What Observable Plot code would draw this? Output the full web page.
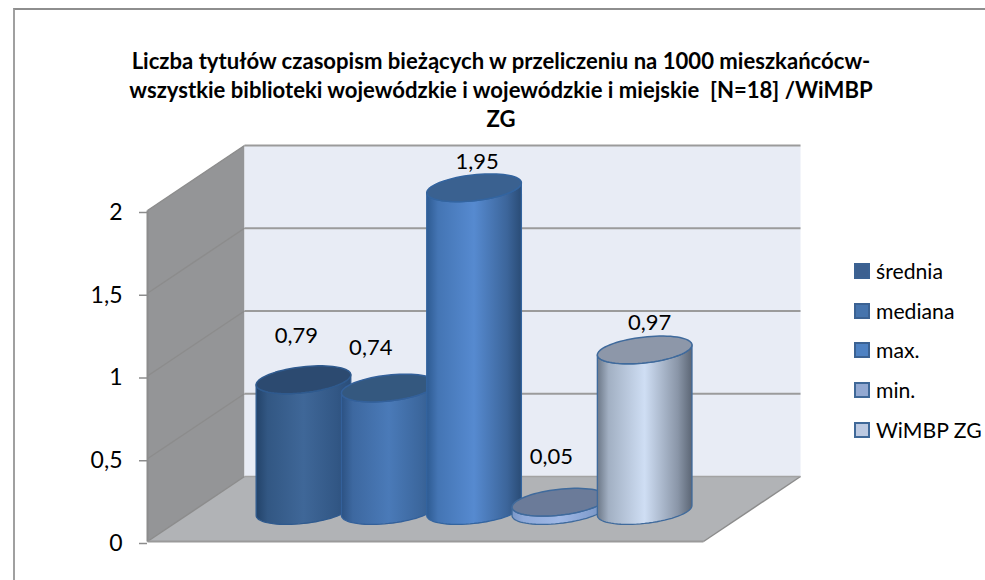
<!DOCTYPE html>
<html><head><meta charset="utf-8">
<script src="https://cdn.jsdelivr.net/npm/d3@7"></script>
<script src="https://cdn.jsdelivr.net/npm/@observablehq/plot@0.6"></script>
<style>
html,body{margin:0;padding:0;background:#fff;}
body{width:985px;height:580px;overflow:hidden;position:relative;font-family:Lato,"Open Sans",sans-serif;color:#000;}
#frame{position:absolute;left:13px;top:8px;width:1000px;height:640px;border:2px solid #8e8e8e;border-left-color:#a0a0a0;box-sizing:border-box;pointer-events:none;}
#title{height:135px;box-sizing:border-box;padding-top:46px;width:1002px;text-align:center;font-weight:700;font-size:22.1px;line-height:29px;white-space:nowrap;}
#legend{position:absolute;left:854px;top:251px;white-space:nowrap;}
.row{height:39.7px;display:flex;align-items:center;font-size:21.2px;}
.sw{width:12px;height:12px;border:2px solid;margin-right:6px;flex:none;}
</style></head><body>
<div id="frame"></div>
<div id="title">Liczba tytułów czasopism bieżących w przeliczeniu na 1000 mieszkańcócw-<br>wszystkie biblioteki wojewódzkie i wojewódzkie i miejskie&nbsp; [N=18] /WiMBP<br>ZG</div>
<div id="chart"></div>
<div id="legend"></div>
<script>
const categories = ["średnia","mediana","max.","min.","WiMBP ZG"];
const values = [0.79,0.74,1.95,0.05,0.97];
const yTicks = [0,0.5,1,1.5,2];

// styling, separate from data: [left, centre, right, top, outline]
const shades = [
 ["#234369","#3f6798","#2a4d79","#2c4a70","#2f5a8e"],
 ["#2c5283","#4a7ab8","#31598a","#34587f","#33609a"],
 ["#2e5b92","#568ad0","#2a4c76","#3a6190","#33649f"],
 ["#7a97c8","#9fb8e6","#6f8cbc","#6b7b99","#3f6a9c"],
 ["#6c7888","#cfdef4","#5c6675","#8d97a9","#3f6a9c"]];
const swatches = ["#3c6090","#4674ad","#4f82c3","#93a9d2","#bcc9e1"];
const labelNudge = [[-7,-44],[-18,-40],[3,-26],[-8,-45],[5,-27]];

// projection of the 3-D box, in scale units
const unitX = 85.3, unitY = 165.5;          // px per category, px per value
const floorW = 556/unitX, firstX = 1.286;
const depthX = 97/unitX, depthY = 65/unitY, barDepth = 0.477;
const a = 47.6, b = 12.9, th = 6.5*Math.PI/180;
const t0 = Math.atan(-(b/a)*Math.tan(th));
const cx = i => firstX + i + barDepth*depthX;
const cy = v => v + barDepth*depthY;
const ell = (i,v,t) => ({
  x: cx(i) + (a*Math.cos(t)*Math.cos(th) - b*Math.sin(t)*Math.sin(th))/unitX,
  y: cy(v) + (a*Math.cos(t)*Math.sin(th) + b*Math.sin(t)*Math.cos(th))/unitY});
const topEllipse = (i,v) => d3.range(0,73).map(k => ell(i,v,k/72*2*Math.PI));
const body = (i,v) => {
  const lower = d3.range(0,37).map(k => t0 - k/36*Math.PI);
  const bottom = lower.map(t => ell(i,0,t));
  const top = lower.slice().reverse().map(t => ell(i,v,t));
  return [...bottom,...top,bottom[0]];
};

const poly = (pts,opt) => Plot.line(pts,{x:"x",y:"y",curve:"linear",...opt});
const sideWall = [{x:0,y:2},{x:depthX,y:2+depthY},{x:depthX,y:depthY},{x:0,y:0},{x:0,y:2}];
const backWall = [{x:depthX,y:depthY},{x:depthX+floorW,y:depthY},{x:depthX+floorW,y:2+depthY},{x:depthX,y:2+depthY},{x:depthX,y:depthY}];
const floor = [{x:0,y:0},{x:floorW,y:0},{x:floorW+depthX,y:depthY},{x:depthX,y:depthY},{x:0,y:0}];

const gradients = () => {
  const defs = d3.create("svg:defs");
  shades.forEach((s,i)=>{
    const g = defs.append("linearGradient").attr("id","g"+i);
    [[0,s[0]],[.12,d3.interpolateRgb(s[0],s[1])(.55)],[.5,s[1]],[.85,d3.interpolateRgb(s[1],s[2])(.6)],[1,s[2]]]
      .forEach(([o,c])=>g.append("stop").attr("offset",o).attr("stop-color",c));
  });
  return defs.node();
};

const plot = Plot.plot({
  width:985, height:445,
  marginLeft:147, marginRight:282, marginTop:75, marginBottom:39,
  style:{background:"transparent",overflow:"visible"},
  x:{domain:[0,floorW],axis:null},
  y:{domain:[0,2],axis:null},
  marks:[
    gradients,
    poly(sideWall,{fill:"#949597",stroke:"none"}),
    poly(backWall,{fill:"#e8ecf5",stroke:"none"}),
    poly(floor,{fill:"#b1b3b6",stroke:"none"}),
    Plot.link(yTicks.slice(1),{x1:depthX,x2:depthX+floorW,y1:d=>d+depthY,y2:d=>d+depthY,stroke:"#9b9b9b",strokeWidth:2.2}),
    Plot.link(yTicks,{x1:0,x2:depthX,y1:d=>d,y2:d=>d+depthY,stroke:"#8c8c8c",strokeWidth:1.5}),
    Plot.link([0],{x1:0,x2:floorW,y1:0,y2:0,stroke:"#9a9a9a",strokeWidth:2.2}),
    Plot.link([0],{x1:floorW,x2:floorW+depthX,y1:0,y2:depthY,stroke:"#8c8c8c",strokeWidth:1.5}),
    Plot.link([0],{x1:depthX,x2:depthX+floorW,y1:depthY,y2:depthY,stroke:"#a3a3a3",strokeWidth:1.5}),
    Plot.link([0],{x1:0,x2:0,y1:0,y2:2,stroke:"#8c8c8c",strokeWidth:2}),
    Plot.axisY(yTicks,{label:null,tickSize:8,tickPadding:17,stroke:"#8c8c8c",strokeWidth:1.5,fill:"#000",fontSize:23,
      fontFamily:"Lato",dy:2,tickFormat:d=>String(d).replace(".",",")}),
    ...values.flatMap((v,i)=>[
      poly(body(i,v),{fill:`url(#g${i})`,stroke:shades[i][4],strokeWidth:1.3}),
      poly(topEllipse(i,v),{fill:shades[i][3],stroke:shades[i][4],strokeWidth:1.5})
    ]),
    ...values.map((v,i)=>Plot.text([v],{x:()=>cx(i),y:d=>cy(d),text:d=>String(d).replace(".",","),
       dx:labelNudge[i][0],dy:labelNudge[i][1],fontSize:22,fontFamily:"Lato",fill:"#000"}))
  ]
});
document.getElementById("chart").append(plot);
const leg = d3.select("#legend");
categories.forEach((c,i)=>{
  const r = leg.append("div").attr("class","row");
  r.append("div").attr("class","sw").style("background",swatches[i]).style("border-color",i<3?"#3b6293":"#3f6898");
  r.append("span").text(c);
});
</script></body></html>
